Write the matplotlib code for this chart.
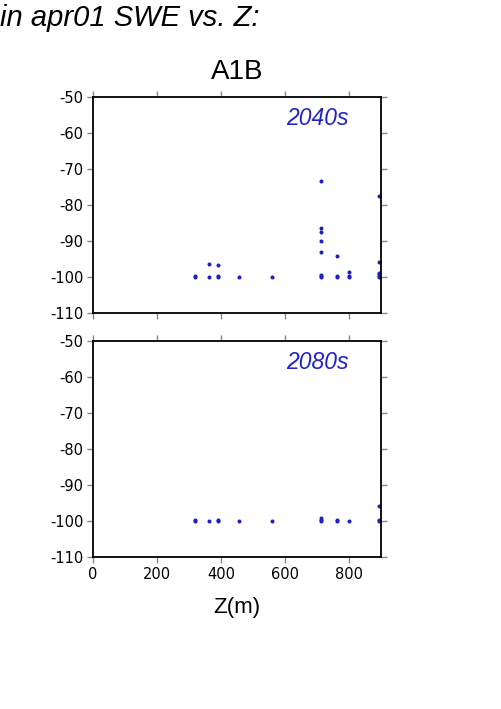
import matplotlib
matplotlib.use("Agg")
import matplotlib.pyplot as plt

plt.rcParams['font.family'] = ['Liberation Sans', 'DejaVu Sans']
plt.rcParams['axes.unicode_minus'] = False

# Data
z_2040 = [319, 319, 362, 362, 391, 391, 391, 456, 559,
          714, 714, 714, 714, 714, 714, 714, 714,
          761, 761, 761, 801, 801, 801,
          894, 894, 894, 894, 894, 894]
d_2040 = [-100, -99.8, -96.5, -100, -96.7, -100, -99.6, -100, -100,
          -73.4, -86.4, -87.6, -90.0, -93.0, -99.5, -99.8, -100,
          -94.2, -99.6, -100, -98.5, -100, -99.7,
          -77.6, -95.9, -98.8, -99.3, -99.7, -100]

z_2080 = [319, 319, 362, 391, 391, 456, 559,
          714, 714, 714, 761, 761, 801,
          894, 894, 894]
d_2080 = [-100, -99.8, -100, -100, -99.8, -100, -100,
          -99.2, -99.8, -100, -100, -99.8, -100,
          -95.7, -100, -99.8]

panels = [("2040s", z_2040, d_2040), ("2080s", z_2080, d_2080)]
yticks = [-50, -60, -70, -80, -90, -100, -110]
xticks = [0, 200, 400, 600, 800]

W, H = 501, 709
fig = plt.figure(figsize=(W / 100, H / 100), dpi=100)

left = 93 / W
width = 288 / W
tops = [97, 341]
ph = 216
dot_color = '#1f1fc4'

for i, (lab, zs, ds) in enumerate(panels):
    top = tops[i]
    ax = fig.add_axes([left, 1 - (top + ph) / H, width, ph / H])
    ax.plot(zs, ds, 'o', color=dot_color, markersize=2.9, markeredgewidth=0)
    ax.set_xlim(0, 900)
    ax.set_ylim(-110, -50)
    ax.set_yticks(yticks)
    ax.set_xticks(xticks)
    ax.tick_params(direction='out', length=4, width=1, color='#888888',
                   top=True, right=True, labelsize=10.5, pad=3)
    for t in ax.get_xticklabels() + ax.get_yticklabels():
        t.set_family('DejaVu Sans')
    if i == 0:
        ax.tick_params(labelbottom=False)
    for s in ax.spines.values():
        s.set_linewidth(1.3)
        s.set_color('black')
    ax.text(0.889, 0.9, lab, transform=ax.transAxes, ha='right', va='center',
            fontsize=16.5, style='italic', color='#2323c8')
    if i == 1:
        ax.set_xlabel('Z(m)', fontsize=16, labelpad=11)

fig.text(0 / W, 1 - 18 / H, 'in apr01 SWE vs. Z:', ha='left', va='center',
         fontsize=21, style='italic')
fig.text((93 + 144) / W, 1 - 72 / H, 'A1B', ha='center', va='center', fontsize=20)

fig.savefig('out.png', dpi=100)
